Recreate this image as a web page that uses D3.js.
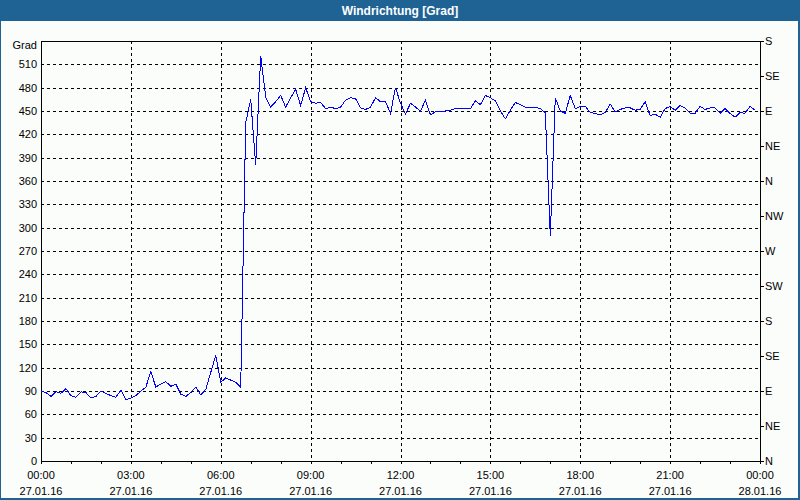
<!DOCTYPE html>
<html>
<head>
<meta charset="utf-8">
<script src="https://cdn.jsdelivr.net/npm/d3@7/dist/d3.min.js"></script>
<style>
  html, body { margin: 0; padding: 0; background: #ffffff; }
  svg { display: block; }
  text { font-family: "Liberation Sans", Arial, sans-serif; font-size: 11px; fill: #000; }
</style>
</head>
<body>
<svg id="chart" width="800" height="500"></svg>
<script>
// ---- data ----
const title = "Windrichtung [Grad]";
const unitLabel = "Grad";
const startMinutes = 0;          // 27.01.16 00:00
const stepMinutes = 10;          // one sample every 10 minutes
const direction = [
  90, 88, 83, 89, 87, 93, 84, 82, 89, 88,
  81, 83, 90, 87, 84, 82, 91, 79, 81, 84,
  90, 95, 115, 95, 99, 102, 96, 99, 86, 83,
  88, 95, 85, 92, 114, 136, 101, 107, 104, 101,
  95, 435, 465, 380, 521, 468, 455, 462, 470, 455,
  467, 478, 457, 480, 462, 460, 461, 453, 455, 453,
  455, 464, 467, 466, 454, 452, 455, 467, 462, 462,
  447, 480, 460, 446, 460, 455, 450, 464, 445, 449,
  449, 450, 451, 453, 453, 453, 453, 463, 458, 470,
  467, 463, 450, 440, 451, 461, 458, 455, 454, 455,
  453, 448, 289, 467, 450, 447, 470, 453, 456, 456,
  448, 447, 445, 448, 459, 449, 452, 454, 454, 451,
  452, 462, 444, 446, 442, 453, 456, 451, 457, 454,
  447, 447, 456, 452, 454, 454, 447, 453, 447, 442,
  448, 447, 456, 451
];
const leftTicks = [0, 30, 60, 90, 120, 150, 180, 210, 240, 270, 300, 330, 360, 390, 420, 450, 480, 510];
const rightTicks = [0, 45, 90, 135, 180, 225, 270, 315, 360, 405, 450, 495, 540];
const rightLabels = ["N", "NE", "E", "SE", "S", "SW", "W", "NW", "N", "NE", "E", "SE", "S"];
const majorHours = [0, 3, 6, 9, 12, 15, 18, 21, 24];
const timeLabels = ["00:00", "03:00", "06:00", "09:00", "12:00", "15:00", "18:00", "21:00", "00:00"];
const dateLabels = ["27.01.16", "27.01.16", "27.01.16", "27.01.16", "27.01.16", "27.01.16", "27.01.16", "27.01.16", "28.01.16"];
const minorHours = d3.range(0, 25);

// ---- layout ----
const W = 800, H = 500;
const plot = { left: 41, right: 760, top: 41, bottom: 461 };
const svg = d3.select("#chart");

// frame + title bar
svg.append("rect").attr("x", 0).attr("y", 0).attr("width", W).attr("height", H).attr("fill", "#1f6395");
svg.append("rect").attr("x", 1).attr("y", 21).attr("width", W - 3).attr("height", H - 23).attr("fill", "#fbfdfb");
svg.append("text").attr("x", W / 2).attr("y", 15).attr("text-anchor", "middle")
  .style("fill", "#ffffff").style("font-weight", "bold").style("font-size", "12px").text(title);

const x = d3.scaleLinear().domain([0, 24]).range([plot.left, plot.right]);
const y = d3.scaleLinear().domain([0, 540]).range([plot.bottom, plot.top]);

const g = svg.append("g");

// horizontal gridlines
g.selectAll("line.hgrid").data(leftTicks.filter(v => v > 0)).enter().append("line")
  .attr("x1", plot.left).attr("x2", plot.right)
  .attr("y1", d => Math.round(y(d)) + 0.5).attr("y2", d => Math.round(y(d)) + 0.5)
  .attr("stroke", "#000").attr("stroke-width", 1).attr("stroke-dasharray", "3,3")
  .attr("shape-rendering", "crispEdges");

// vertical gridlines
g.selectAll("line.vgrid").data(majorHours.filter(h => h > 0 && h < 24)).enter().append("line")
  .attr("x1", d => Math.round(x(d)) + 0.5).attr("x2", d => Math.round(x(d)) + 0.5)
  .attr("y1", plot.top).attr("y2", plot.bottom)
  .attr("stroke", "#000").attr("stroke-width", 1).attr("stroke-dasharray", "3,3")
  .attr("shape-rendering", "crispEdges");

// left axis labels
g.selectAll("text.yl").data(leftTicks).enter().append("text")
  .attr("x", plot.left - 4).attr("y", d => y(d)).attr("dy", "0.35em")
  .attr("text-anchor", "end").text(d => d);
g.append("text").attr("x", plot.left - 4).attr("y", plot.top + 4).attr("dy", "0.35em")
  .attr("text-anchor", "end").text(unitLabel);

// right axis ticks + labels
g.selectAll("line.rt").data(rightTicks).enter().append("line")
  .attr("x1", plot.right).attr("x2", plot.right + 4)
  .attr("y1", d => Math.round(y(d)) + 0.5).attr("y2", d => Math.round(y(d)) + 0.5)
  .attr("stroke", "#000").attr("shape-rendering", "crispEdges");
g.selectAll("text.rl").data(rightTicks).enter().append("text")
  .attr("x", plot.right + 5).attr("y", d => y(d)).attr("dy", "0.35em")
  .attr("text-anchor", "start").text((d, i) => rightLabels[i]);

// x minor ticks
g.selectAll("line.xt").data(minorHours).enter().append("line")
  .attr("x1", d => Math.round(x(d)) + 0.5).attr("x2", d => Math.round(x(d)) + 0.5)
  .attr("y1", plot.bottom).attr("y2", plot.bottom + 3)
  .attr("stroke", "#000").attr("shape-rendering", "crispEdges");

// x labels
g.selectAll("text.xl1").data(majorHours).enter().append("text")
  .attr("x", d => x(d)).attr("y", 479).attr("text-anchor", "middle")
  .text((d, i) => timeLabels[i]);
g.selectAll("text.xl2").data(majorHours).enter().append("text")
  .attr("x", d => x(d)).attr("y", 495).attr("text-anchor", "middle")
  .text((d, i) => dateLabels[i]);

// plot box
g.append("rect")
  .attr("x", plot.left + 0.5).attr("y", plot.top + 0.5)
  .attr("width", plot.right - plot.left).attr("height", plot.bottom - plot.top)
  .attr("fill", "none").attr("stroke", "#000").attr("shape-rendering", "crispEdges");

// data line
const pts = direction.map((v, i) => ({ h: (startMinutes + i * stepMinutes) / 60, v }));
const line = d3.line().x(d => x(d.h)).y(d => y(d.v));
g.append("path").datum(pts)
  .attr("d", line)
  .attr("fill", "none").attr("stroke", "#0000ff").attr("stroke-width", 1)
  .attr("shape-rendering", "crispEdges");
</script>
</body>
</html>
